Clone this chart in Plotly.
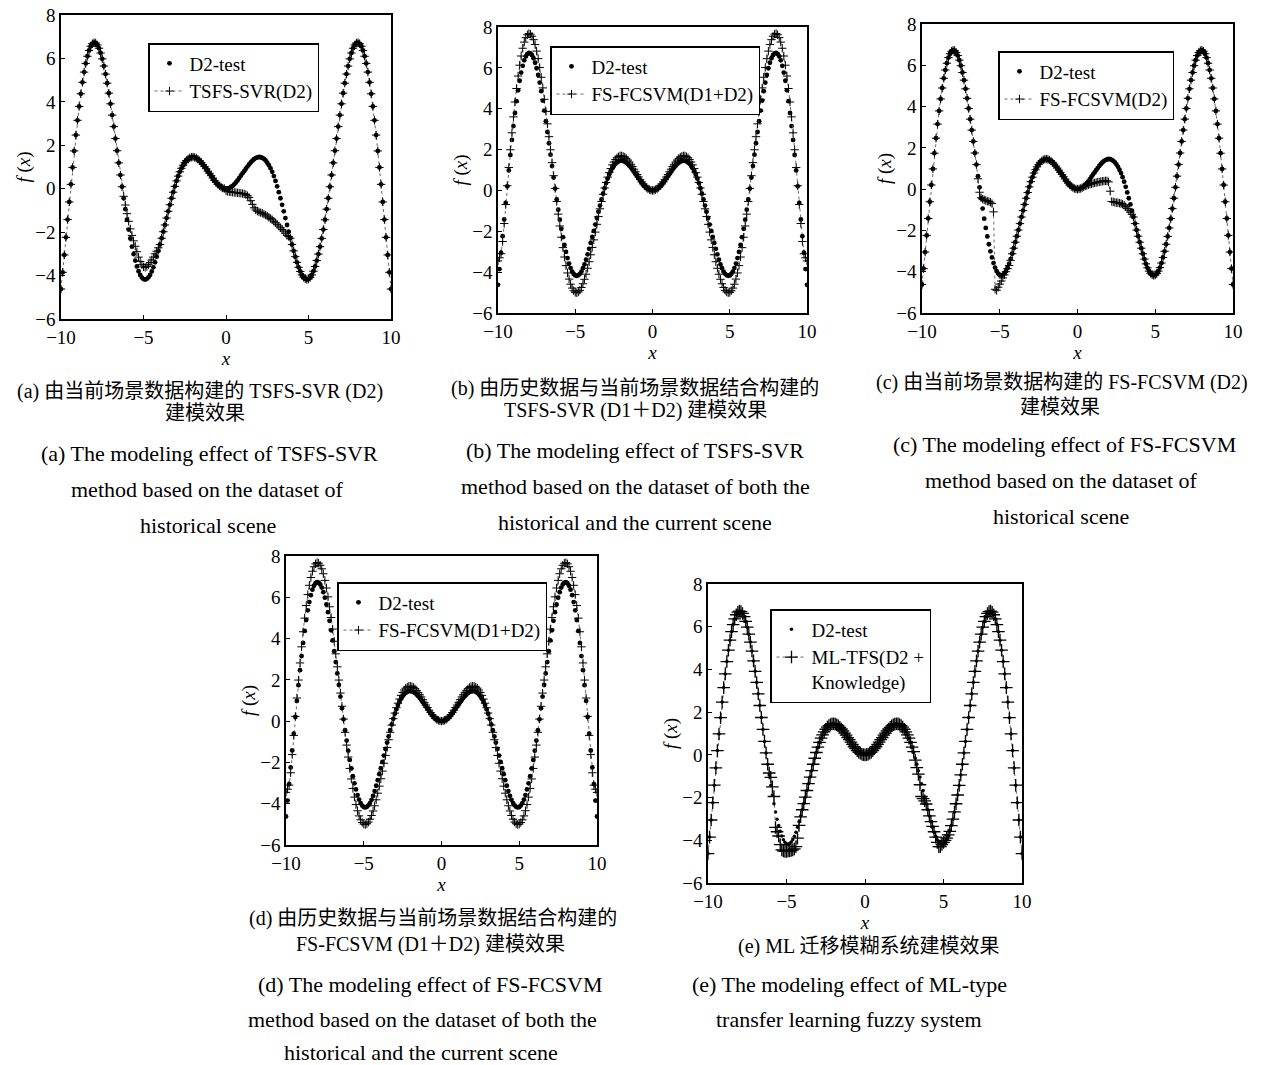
import numpy as np
import plotly.graph_objects as go

W, H = 1272, 1065

# ---------------- data ----------------
X_GRID = np.round(np.linspace(-10, 10, 201), 1)

D2_TEST = [
    -4.62, -3.85, -3.05, -2.24, -1.42, -0.61, 0.20, 0.98, 1.74, 2.47,
    3.15, 3.79, 4.37, 4.90, 5.37, 5.77, 6.10, 6.37, 6.56, 6.68,
    6.73, 6.71, 6.62, 6.47, 6.25, 5.98, 5.65, 5.28, 4.86, 4.40,
    3.91, 3.39, 2.86, 2.31, 1.75, 1.19, 0.63, 0.09, -0.44, -0.94,
    -1.43, -1.88, -2.29, -2.67, -3.01, -3.31, -3.58, -3.80, -3.97, -4.09,
    -4.16, -4.18, -4.15, -4.08, -3.97, -3.81, -3.62, -3.39, -3.13, -2.86,
    -2.57, -2.28, -1.98, -1.67, -1.35, -1.04, -0.74, -0.44, -0.16, 0.11,
    0.36, 0.58, 0.78, 0.94, 1.08, 1.20, 1.30, 1.37, 1.42, 1.45,
    1.46, 1.44, 1.41, 1.36, 1.29, 1.21, 1.12, 1.02, 0.92, 0.81,
    0.71, 0.60, 0.49, 0.38, 0.29, 0.20, 0.13, 0.08, 0.03, 0.01,
    0.00,
    0.01, 0.03, 0.08, 0.13, 0.20, 0.29, 0.38, 0.49, 0.60, 0.71,
    0.81, 0.92, 1.02, 1.12, 1.21, 1.29, 1.36, 1.41, 1.44, 1.46,
    1.45, 1.42, 1.37, 1.30, 1.20, 1.08, 0.94, 0.78, 0.58, 0.36,
    0.11, -0.16, -0.44, -0.74, -1.04, -1.35, -1.67, -1.98, -2.28, -2.57,
    -2.86, -3.13, -3.39, -3.62, -3.81, -3.97, -4.08, -4.15, -4.18, -4.16,
    -4.09, -3.97, -3.80, -3.58, -3.31, -3.01, -2.67, -2.29, -1.88, -1.43,
    -0.94, -0.44, 0.09, 0.63, 1.19, 1.75, 2.31, 2.86, 3.39, 3.91,
    4.40, 4.86, 5.28, 5.65, 5.98, 6.25, 6.47, 6.62, 6.71, 6.73,
    6.68, 6.56, 6.37, 6.10, 5.77, 5.37, 4.90, 4.37, 3.79, 3.15,
    2.47, 1.74, 0.98, 0.20, -0.61, -1.42, -2.24, -3.05, -3.85, -4.62,
]

TSFS_SVR_D2 = [
    -4.62, -3.85, -3.05, -2.24, -1.42, -0.61, 0.20, 0.98, 1.74, 2.47,
    3.15, 3.79, 4.37, 4.90, 5.37, 5.77, 6.10, 6.37, 6.56, 6.68,
    6.73, 6.71, 6.62, 6.47, 6.25, 5.98, 5.65, 5.28, 4.86, 4.40,
    3.91, 3.39, 2.86, 2.31, 1.75, 1.19, 0.63, 0.09, -0.35, -0.75,
    -1.15, -1.50, -1.85, -2.15, -2.40, -2.65, -2.90, -3.15, -3.35, -3.50,
    -3.60, -3.62, -3.58, -3.50, -3.40, -3.28, -3.15, -3.00, -2.88, -2.72,
    -2.57, -2.28, -1.98, -1.67, -1.35, -1.04, -0.74, -0.44, -0.16, 0.11,
    0.36, 0.58, 0.78, 0.94, 1.08, 1.20, 1.30, 1.37, 1.42, 1.45,
    1.46, 1.44, 1.41, 1.36, 1.29, 1.21, 1.12, 1.02, 0.92, 0.81,
    0.71, 0.60, 0.49, 0.38, 0.29, 0.20, 0.13, 0.08, 0.03, 0.01,
    -0.10,
    -0.12, -0.14, -0.15, -0.16, -0.17, -0.18, -0.19, -0.20, -0.21, -0.22,
    -0.24, -0.27, -0.32, -0.40, -0.55, -0.72, -0.88, -0.98, -1.03, -1.07,
    -1.10, -1.13, -1.17, -1.21, -1.26, -1.31, -1.37, -1.43, -1.50, -1.57,
    -1.64, -1.72, -1.80, -1.88, -1.95, -2.05, -2.15, -2.20, -2.28, -2.57,
    -2.86, -3.13, -3.39, -3.62, -3.81, -3.97, -4.08, -4.15, -4.18, -4.16,
    -4.09, -3.97, -3.80, -3.58, -3.31, -3.01, -2.67, -2.29, -1.88, -1.43,
    -0.94, -0.44, 0.09, 0.63, 1.19, 1.75, 2.31, 2.86, 3.39, 3.91,
    4.40, 4.86, 5.28, 5.65, 5.98, 6.25, 6.47, 6.62, 6.71, 6.73,
    6.68, 6.56, 6.37, 6.10, 5.77, 5.37, 4.90, 4.37, 3.79, 3.15,
    2.47, 1.74, 0.98, 0.20, -0.61, -1.42, -2.24, -3.05, -3.85, -4.62,
]

FS_FCSVM_D1D2 = [
    -3.45, -3.30, -3.10, -2.50, -1.62, -0.69, 0.23, 1.12, 1.99, 2.82,
    3.60, 4.33, 4.99, 5.60, 6.13, 6.58, 6.96, 7.26, 7.48, 7.62,
    7.68, 7.65, 7.55, 7.38, 7.14, 6.82, 6.45, 6.02, 5.54, 5.02,
    4.46, 3.87, 3.26, 2.63, 1.99, 1.36, 0.72, 0.10, -0.54, -1.16,
    -1.74, -2.29, -2.80, -3.26, -3.68, -4.04, -4.34, -4.59, -4.78, -4.91,
    -4.99, -5.01, -4.97, -4.89, -4.75, -4.57, -4.35, -4.10, -3.81, -3.49,
    -3.15, -2.79, -2.42, -2.04, -1.66, -1.28, -0.90, -0.54, -0.19, 0.12,
    0.39, 0.65, 0.87, 1.07, 1.25, 1.39, 1.51, 1.60, 1.65, 1.69,
    1.69, 1.67, 1.63, 1.57, 1.49, 1.39, 1.28, 1.17, 1.04, 0.91,
    0.78, 0.66, 0.53, 0.42, 0.32, 0.22, 0.14, 0.08, 0.04, 0.01,
    0.00,
    0.01, 0.04, 0.08, 0.14, 0.22, 0.32, 0.42, 0.53, 0.66, 0.78,
    0.91, 1.04, 1.17, 1.28, 1.39, 1.49, 1.57, 1.63, 1.67, 1.69,
    1.69, 1.65, 1.60, 1.51, 1.39, 1.25, 1.07, 0.87, 0.65, 0.39,
    0.12, -0.19, -0.54, -0.90, -1.28, -1.66, -2.04, -2.42, -2.79, -3.15,
    -3.49, -3.81, -4.10, -4.35, -4.57, -4.75, -4.89, -4.97, -5.01, -4.99,
    -4.91, -4.78, -4.59, -4.34, -4.04, -3.68, -3.26, -2.80, -2.29, -1.74,
    -1.16, -0.54, 0.10, 0.72, 1.36, 1.99, 2.63, 3.26, 3.87, 4.46,
    5.02, 5.54, 6.02, 6.45, 6.82, 7.14, 7.38, 7.55, 7.65, 7.68,
    7.62, 7.48, 7.26, 6.96, 6.58, 6.13, 5.60, 4.99, 4.33, 3.60,
    2.82, 1.99, 1.12, 0.23, -0.69, -1.62, -2.50, -3.10, -3.30, -3.45,
]

FS_FCSVM_D2 = [
    -4.62, -3.85, -3.05, -2.24, -1.42, -0.61, 0.20, 0.98, 1.74, 2.47,
    3.15, 3.79, 4.37, 4.90, 5.37, 5.77, 6.10, 6.37, 6.56, 6.68,
    6.73, 6.71, 6.62, 6.47, 6.25, 5.98, 5.65, 5.28, 4.86, 4.40,
    3.91, 3.39, 2.86, 2.31, 1.75, 1.19, 0.50, -0.15, -0.42, -0.48,
    -0.52, -0.55, -0.58, -0.60, -0.63, -0.70, -1.10, -4.85, -4.90, -4.75,
    -4.60, -4.45, -4.30, -4.15, -4.00, -3.85, -3.70, -3.45, -3.13, -2.86,
    -2.57, -2.28, -1.98, -1.67, -1.35, -1.04, -0.74, -0.44, -0.16, 0.11,
    0.36, 0.58, 0.78, 0.94, 1.08, 1.20, 1.30, 1.37, 1.42, 1.45,
    1.46, 1.44, 1.41, 1.36, 1.29, 1.21, 1.12, 1.02, 0.92, 0.81,
    0.71, 0.60, 0.49, 0.38, 0.29, 0.20, 0.13, 0.08, 0.03, 0.01,
    0.00,
    0.01, 0.03, 0.07, 0.11, 0.15, 0.18, 0.21, 0.24, 0.26, 0.28,
    0.30, 0.32, 0.34, 0.35, 0.37, 0.38, 0.39, 0.40, 0.40, 0.35,
    -0.10, -0.60, -0.62, -0.64, -0.65, -0.66, -0.68, -0.70, -0.73, -0.78,
    -0.85, -0.93, -1.02, -1.12, -1.22, -1.35, -1.67, -1.98, -2.28, -2.57,
    -2.86, -3.13, -3.39, -3.62, -3.81, -3.97, -4.08, -4.15, -4.18, -4.16,
    -4.09, -3.97, -3.80, -3.58, -3.31, -3.01, -2.67, -2.29, -1.88, -1.43,
    -0.94, -0.44, 0.09, 0.63, 1.19, 1.75, 2.31, 2.86, 3.39, 3.91,
    4.40, 4.86, 5.28, 5.65, 5.98, 6.25, 6.47, 6.62, 6.71, 6.73,
    6.68, 6.56, 6.37, 6.10, 5.77, 5.37, 4.90, 4.37, 3.79, 3.15,
    2.47, 1.74, 0.98, 0.20, -0.61, -1.42, -2.24, -3.05, -3.85, -4.62,
]

ML_TFS = [
    -4.62, -3.85, -3.05, -2.24, -1.42, -0.61, 0.20, 0.98, 1.74, 2.47,
    3.15, 3.79, 4.37, 4.90, 5.37, 5.77, 6.10, 6.37, 6.56, 6.68,
    6.73, 6.71, 6.62, 6.47, 6.25, 5.98, 5.65, 5.28, 4.86, 4.40,
    3.91, 3.39, 2.86, 2.31, 1.75, 1.19, 0.63, 0.09, -0.44, -0.85,
    -1.05, -1.50, -1.95, -3.40, -3.60, -3.80, -4.20, -4.45, -4.50, -4.52,
    -4.52, -4.50, -4.50, -4.48, -4.45, -4.40, -4.30, -3.90, -3.30, -2.90,
    -2.57, -2.28, -1.98, -1.67, -1.35, -1.04, -0.74, -0.44, -0.16, 0.11,
    0.36, 0.58, 0.78, 0.94, 1.08, 1.20, 1.30, 1.37, 1.42, 1.45,
    1.46, 1.44, 1.41, 1.36, 1.29, 1.21, 1.12, 1.02, 0.92, 0.81,
    0.71, 0.60, 0.49, 0.38, 0.29, 0.20, 0.13, 0.08, 0.03, 0.01,
    0.00,
    0.01, 0.03, 0.08, 0.13, 0.20, 0.29, 0.38, 0.49, 0.60, 0.71,
    0.81, 0.92, 1.02, 1.12, 1.21, 1.29, 1.36, 1.41, 1.44, 1.46,
    1.45, 1.42, 1.37, 1.30, 1.20, 1.08, 0.94, 0.78, 0.58, 0.36,
    0.15, -0.25, -0.60, -0.90, -1.40, -1.95, -2.05, -2.15, -2.30, -2.57,
    -2.86, -3.13, -3.35, -3.60, -3.85, -4.10, -4.30, -4.30, -4.20, -4.10,
    -4.00, -3.90, -3.75, -3.58, -3.31, -3.01, -2.67, -2.29, -1.88, -1.43,
    -0.94, -0.44, 0.09, 0.63, 1.19, 1.75, 2.31, 2.86, 3.39, 3.91,
    4.40, 4.86, 5.28, 5.65, 5.98, 6.25, 6.47, 6.62, 6.71, 6.73,
    6.68, 6.56, 6.37, 6.10, 5.77, 5.37, 4.90, 4.37, 3.79, 3.15,
    2.47, 1.74, 0.98, 0.20, -0.61, -1.42, -2.24, -3.05, -3.85, -4.62,
]

X_TICKS = [-10, -5, 0, 5, 10]
Y_TICKS = [-6, -4, -2, 0, 2, 4, 6, 8]

# ---------------- layout constants ----------------
SERIF = "Liberation Serif, Times New Roman, serif"
CJK = "Liberation Serif, Noto Sans CJK SC, serif"

# panel boxes in pixels: left, right, top, bottom ; legend top-left in pixels
PANELS = [
    dict(box=(61, 391, 15, 319), model=TSFS_SVR_D2, name="TSFS-SVR(D2)", leg=(148, 43)),
    dict(box=(498, 807, 27, 313), model=FS_FCSVM_D1D2, name="FS-FCSVM(D1+D2)", leg=(550, 46)),
    dict(box=(922, 1233, 24, 313), model=FS_FCSVM_D2, name="FS-FCSVM(D2)", leg=(998, 51)),
    dict(box=(286, 597, 556, 845), model=FS_FCSVM_D1D2, name="FS-FCSVM(D1+D2)", leg=(337, 582)),
    dict(box=(708, 1022, 584, 883), model=ML_TFS, name="ML-TFS(D2 +<br>Knowledge)", leg=(770, 609)),
]

fig = go.Figure()
layout_updates = {}
for i, p in enumerate(PANELS):
    k = "" if i == 0 else str(i + 1)
    leg = "legend" if i == 0 else f"legend{i + 1}"
    l, r, t, b = p["box"]
    big = (i == 4)
    fig.add_trace(go.Scatter(
        x=X_GRID, y=D2_TEST, mode="markers", name="D2-test",
        marker=dict(symbol="circle", size=3.5 if big else 4.8, color="black"),
        xaxis="x" + k, yaxis="y" + k, legend=leg,
    ))
    fig.add_trace(go.Scatter(
        x=X_GRID, y=p["model"], mode="lines+markers", name=p["name"],
        line=dict(color="#444444", width=0.8, dash="dot"),
        marker=dict(symbol="cross-thin", size=9 if big else 6,
                    line=dict(color="black", width=1.3 if big else 1.0)),
        xaxis="x" + k, yaxis="y" + k, legend=leg,
    ))
    axis_common = dict(
        showline=True, mirror=True, linecolor="black", linewidth=1.5,
        ticks="inside", ticklen=4, tickcolor="black", tickwidth=1,
        showgrid=False, zeroline=False,
        tickfont=dict(family=SERIF, size=19, color="black"),
    )
    layout_updates["xaxis" + k] = dict(
        axis_common, domain=[l / W, r / W], range=[-10, 10], tickvals=X_TICKS,
        anchor="y" + k,
        title=dict(text="<i>x</i>", font=dict(family=SERIF, size=19, color="black"),
                   standoff=0 if big else 3),
    )
    layout_updates["yaxis" + k] = dict(
        axis_common, domain=[1 - b / H, 1 - t / H], range=[-6, 8], tickvals=Y_TICKS,
        anchor="x" + k,
        title=dict(text="<i>f</i> (<i>x</i>)", font=dict(family=SERIF, size=19, color="black"),
                   standoff=0),
    )
    lx, ly = p["leg"]
    layout_updates[leg] = dict(
        x=lx / W, y=1 - ly / H, xanchor="left", yanchor="top",
        bgcolor="white", bordercolor="black", borderwidth=1.5,
        font=dict(family=SERIF, size=19, color="black"),
        tracegroupgap=0, itemwidth=30, valign="top",
    )

fig.update_layout(**layout_updates)

# ---------------- captions ----------------
CAPTIONS = [
    (200, 391, "(a) 由当前场景数据构建的 TSFS-SVR (D2)", True),
    (205, 413, "建模效果", True),
    (209, 453, "(a) The modeling effect of TSFS-SVR", False),
    (207, 489, "method based on the dataset of", False),
    (208, 525, "historical scene", False),
    (635, 388, "(b) 由历史数据与当前场景数据结合构建的", True),
    (635, 411, "TSFS-SVR (D1＋D2) 建模效果", True),
    (635, 450, "(b) The modeling effect of TSFS-SVR", False),
    (635, 486, "method based on the dataset of both the", False),
    (635, 522, "historical and the current scene", False),
    (1062, 382, "(c) 由当前场景数据构建的 FS-FCSVM (D2)", True),
    (1060, 407, "建模效果", True),
    (1064, 444, "(c) The modeling effect of FS-FCSVM", False),
    (1061, 480, "method based on the dataset of", False),
    (1061, 516, "historical scene", False),
    (433, 918, "(d) 由历史数据与当前场景数据结合构建的", True),
    (430, 944, "FS-FCSVM (D1＋D2) 建模效果", True),
    (430, 984, "(d) The modeling effect of FS-FCSVM", False),
    (422, 1019, "method based on the dataset of both the", False),
    (421, 1052, "historical and the current scene", False),
    (868, 946, "(e) ML 迁移模糊系统建模效果", True),
    (849, 984, "(e) The modeling effect of ML-type", False),
    (849, 1020, "transfer learning fuzzy system", False),
]
for cx, cy, txt, cjk in CAPTIONS:
    fig.add_annotation(
        x=cx / W, y=1 - cy / H, xref="paper", yref="paper",
        xanchor="center", yanchor="middle", showarrow=False, text=txt,
        font=dict(family=CJK if cjk else SERIF, size=20 if cjk else 22, color="black"),
    )

fig.update_layout(
    width=W, height=H, margin=dict(l=0, r=0, t=0, b=0, autoexpand=False),
    paper_bgcolor="white", plot_bgcolor="white", showlegend=True,
)

fig.write_html(
    "out.html",
    config={"displayModeBar": False},
    post_script="document.body.style.margin='0';document.body.style.overflow='hidden';",
)
